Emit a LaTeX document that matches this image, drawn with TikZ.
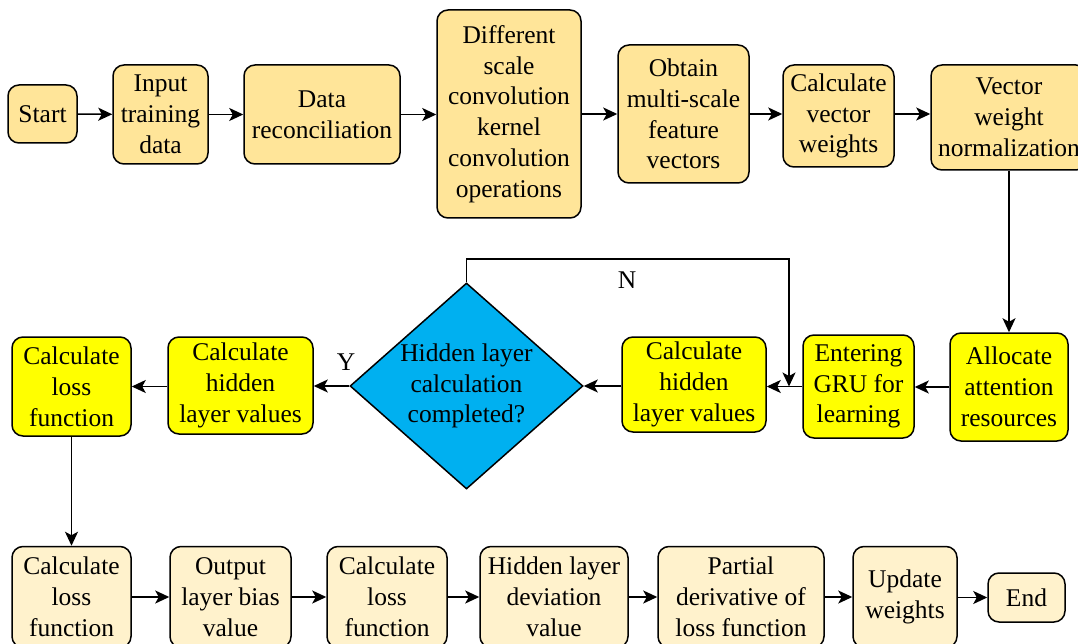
\documentclass[tikz,border=0pt]{standalone}
\usepackage{fontspec}
\setmainfont{Liberation Serif}
\usetikzlibrary{shapes.geometric,arrows.meta}
\definecolor{topfill}{RGB}{255,229,153}
\definecolor{midfill}{RGB}{255,255,0}
\definecolor{botfill}{RGB}{255,242,204}
\definecolor{decfill}{RGB}{0,176,240}
\begin{document}
\begin{tikzpicture}[x=1pt,y=-1pt,
  every node/.style={font=\fontsize{25.5}{30.8}\selectfont},
  box/.style={draw, line width=1.5pt, rounded corners=11pt, align=center, inner sep=0pt},
  topbox/.style={box, fill=topfill},
  midbox/.style={box, fill=midfill},
  botbox/.style={box, fill=botfill},
  arr/.style={-{Stealth[length=14pt,width=13pt,inset=3.5pt]}, line width=1.5pt}]
\useasboundingbox (0,0) rectangle (1078,644);

% first row
\node[topbox, minimum width=69pt, minimum height=58pt] (start) at (42.5,114) {Start};
\node[topbox, minimum width=95pt, minimum height=99pt] (input) at (160.5,114.5) {Input\\training\\data};
\node[topbox, minimum width=156pt, minimum height=99pt] (recon) at (322,114.5) {Data\\reconciliation};
\node[topbox, minimum width=144pt, minimum height=208pt] (conv) at (509,114) {Different\\scale\\convolution\\kernel\\convolution\\operations};
\node[topbox, minimum width=131pt, minimum height=138pt] (obtain) at (683.5,114) {Obtain\\multi-scale\\feature\\vectors};
\node[topbox, minimum width=111pt, minimum height=102pt] (vweight) at (838.5,116) {Calculate\\vector\\weights};
\node[topbox, minimum width=156pt, minimum height=105pt] (norm) at (1009,117.5) {Vector\\weight\\normalization};

% second row
\node[midbox, minimum width=118pt, minimum height=108pt] (alloc) at (1009,387) {Allocate\\attention\\resources};
\node[midbox, minimum width=111pt, minimum height=103pt] (gru) at (858.5,386.5) {Entering\\GRU for\\learning};
\node[midbox, minimum width=144pt, minimum height=95pt] (hidR) at (694,384.5) {Calculate\\hidden\\layer values};
\node[draw, diamond, fill=decfill, line width=1.5pt, minimum width=233pt, minimum height=206pt, inner sep=0pt] (dec) at (466.5,386) {};
\node[align=center] (dectext) at (dec.center) {Hidden layer\\calculation\\completed?};
\node[midbox, minimum width=145pt, minimum height=97pt] (hidL) at (240.5,385.5) {Calculate\\hidden\\layer values};
\node[midbox, minimum width=119pt, minimum height=99pt] (lossY) at (71.5,386.5) {Calculate\\loss\\function};

% third row
\node[botbox, minimum width=119pt, minimum height=101pt] (loss1) at (71.5,597) {Calculate\\loss\\function};
\node[botbox, minimum width=121pt, minimum height=101pt] (bias) at (230.5,597) {Output\\layer bias\\value};
\node[botbox, minimum width=120pt, minimum height=101pt] (loss2) at (387,597) {Calculate\\loss\\function};
\node[botbox, minimum width=148pt, minimum height=101pt] (dev) at (554,597) {Hidden layer\\deviation\\value};
\node[botbox, minimum width=166pt, minimum height=101pt] (partial) at (741,597) {Partial\\derivative of\\loss function};
\node[botbox, minimum width=104pt, minimum height=101pt] (update) at (905,597) {Update\\weights};
\node[botbox, minimum width=77pt, minimum height=49pt] (end) at (1026.5,597.5) {End};

% connectors, first row
\draw[arr] (start) -- (input);
\draw[arr] (input) -- (recon);
\draw[arr] (recon.east) -- (conv.west |- recon.east);
\draw[arr] (conv.east |- obtain.west) -- (obtain.west);
\draw[arr] (obtain.east) -- (vweight.west |- obtain.east);
\draw[arr] (vweight.east |- obtain.east) -- (norm.west |- obtain.east);
\draw[arr] (norm.south) -- (alloc.north);

% connectors, second row
\draw[arr] (alloc.west) -- (gru.east |- alloc.west);
\draw[arr] (gru.west) -- (hidR.east |- gru.west);
\draw[arr] (hidR.west |- dec.east) -- (dec.east);
\draw[arr] (dec.west) -- (hidL.east |- dec.west);
\draw[arr] (hidL.west |- lossY.east) -- (lossY.east);
\coordinate (njoin) at (789,386.5);
\draw[arr] (dec.north) -- (466.5,259) -- (789,259) -- (njoin);
\node (ylab) at (346,362) {Y};
\node (nlab) at (627,280) {N};

% connectors, third row
\draw[arr] (lossY.south) -- (loss1.north);
\draw[arr] (loss1) -- (bias);
\draw[arr] (bias) -- (loss2);
\draw[arr] (loss2) -- (dev);
\draw[arr] (dev) -- (partial);
\draw[arr] (partial) -- (update);
\draw[arr] (update.east |- end.west) -- (end.west);
\end{tikzpicture}
\end{document}
